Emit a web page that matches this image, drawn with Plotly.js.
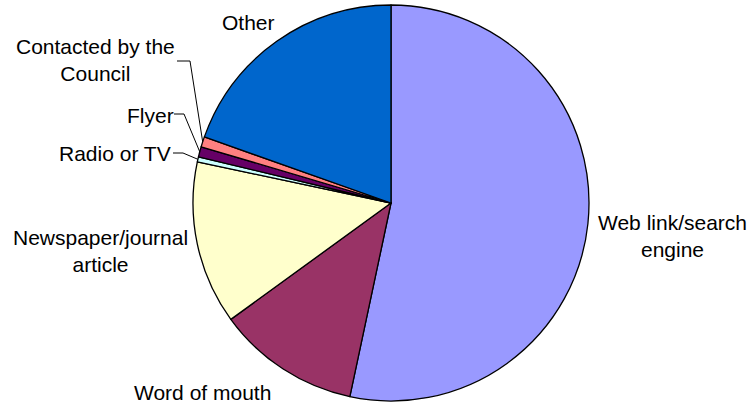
<!DOCTYPE html>
<html>
<head>
<meta charset="utf-8">
<script src="https://cdn.plot.ly/plotly-3.0.1.min.js"></script>
<style>html,body{margin:0;padding:0;background:#fff;}#chart{width:751px;height:404px;}</style>
</head>
<body>
<div id="chart"></div>
<script>
// Data (respondent counts)
const categories = ["Web link/search engine", "Word of mouth", "Newspaper/journal article", "Radio or TV", "Flyer", "Contacted by the Council", "Other"];
const values = [128, 28, 32, 1, 2, 2, 47];
const labelText = ["Web link/search<br>engine", "Word of mouth", "Newspaper/journal<br>article", "Radio or TV", "Flyer", "Contacted by the<br>Council", "Other"];
const colors = ["#9999FF", "#993366", "#FFFFCC", "#CCFFFF", "#660066", "#FF8080", "#0066CC"];

// Layout geometry (pixels)
const W = 751, H = 404;
const CX = 391, CY = 203, R = 198;
// label centres in pixels
const labelPos = [[672, 236], [202, 392], [100, 251], [115, 153], [150, 115], [95, 60], [248, 22]];
// leader lines: start (at label) and elbow, for small slices only
const leaders = {3: [[173, 153], [183, 153]], 4: [[174, 114], [184, 114]], 5: [[177, 61], [190, 61]]};

const px = (x, y) => [x / W, 1 - y / H];

const total = values.reduce((a, b) => a + b, 0);
let cum = 0;
const shapes = [];
const annotations = [];
values.forEach((v, i) => {
  const mid = (cum + v / 2) / total * 2 * Math.PI;
  cum += v;
  const [lx, ly] = px(labelPos[i][0], labelPos[i][1]);
  annotations.push({
    text: labelText[i], x: lx, y: ly, xref: 'paper', yref: 'paper',
    xanchor: 'center', yanchor: 'middle', showarrow: false, align: 'center',
    font: {family: 'Liberation Sans, Arial, sans-serif', size: 21, color: '#000'}
  });
  if (leaders[i]) {
    const ex = CX + R * Math.sin(mid), ey = CY - R * Math.cos(mid);
    const pts = [leaders[i][0], leaders[i][1], [ex, ey]].map(p => px(p[0], p[1]));
    shapes.push({
      type: 'path', xref: 'paper', yref: 'paper',
      path: 'M' + pts.map(p => p[0] + ',' + p[1]).join(' L'),
      line: {color: '#000', width: 1}
    });
  }
});

const trace = {
  type: 'pie',
  labels: categories,
  values: values,
  sort: false,
  direction: 'clockwise',
  rotation: 0,
  textinfo: 'none',
  hoverinfo: 'label+value+percent',
  marker: {colors: colors, line: {color: '#000', width: 1.3}},
  domain: {x: [(CX - R) / W, (CX + R) / W], y: [(H - CY - R) / H, (H - CY + R) / H]},
  showlegend: false
};

const layout = {
  width: W, height: H,
  margin: {l: 0, r: 0, t: 0, b: 0},
  paper_bgcolor: '#fff',
  showlegend: false,
  shapes: shapes,
  annotations: annotations
};

Plotly.newPlot('chart', [trace], layout, {displayModeBar: false, staticPlot: true});
</script>
</body>
</html>
